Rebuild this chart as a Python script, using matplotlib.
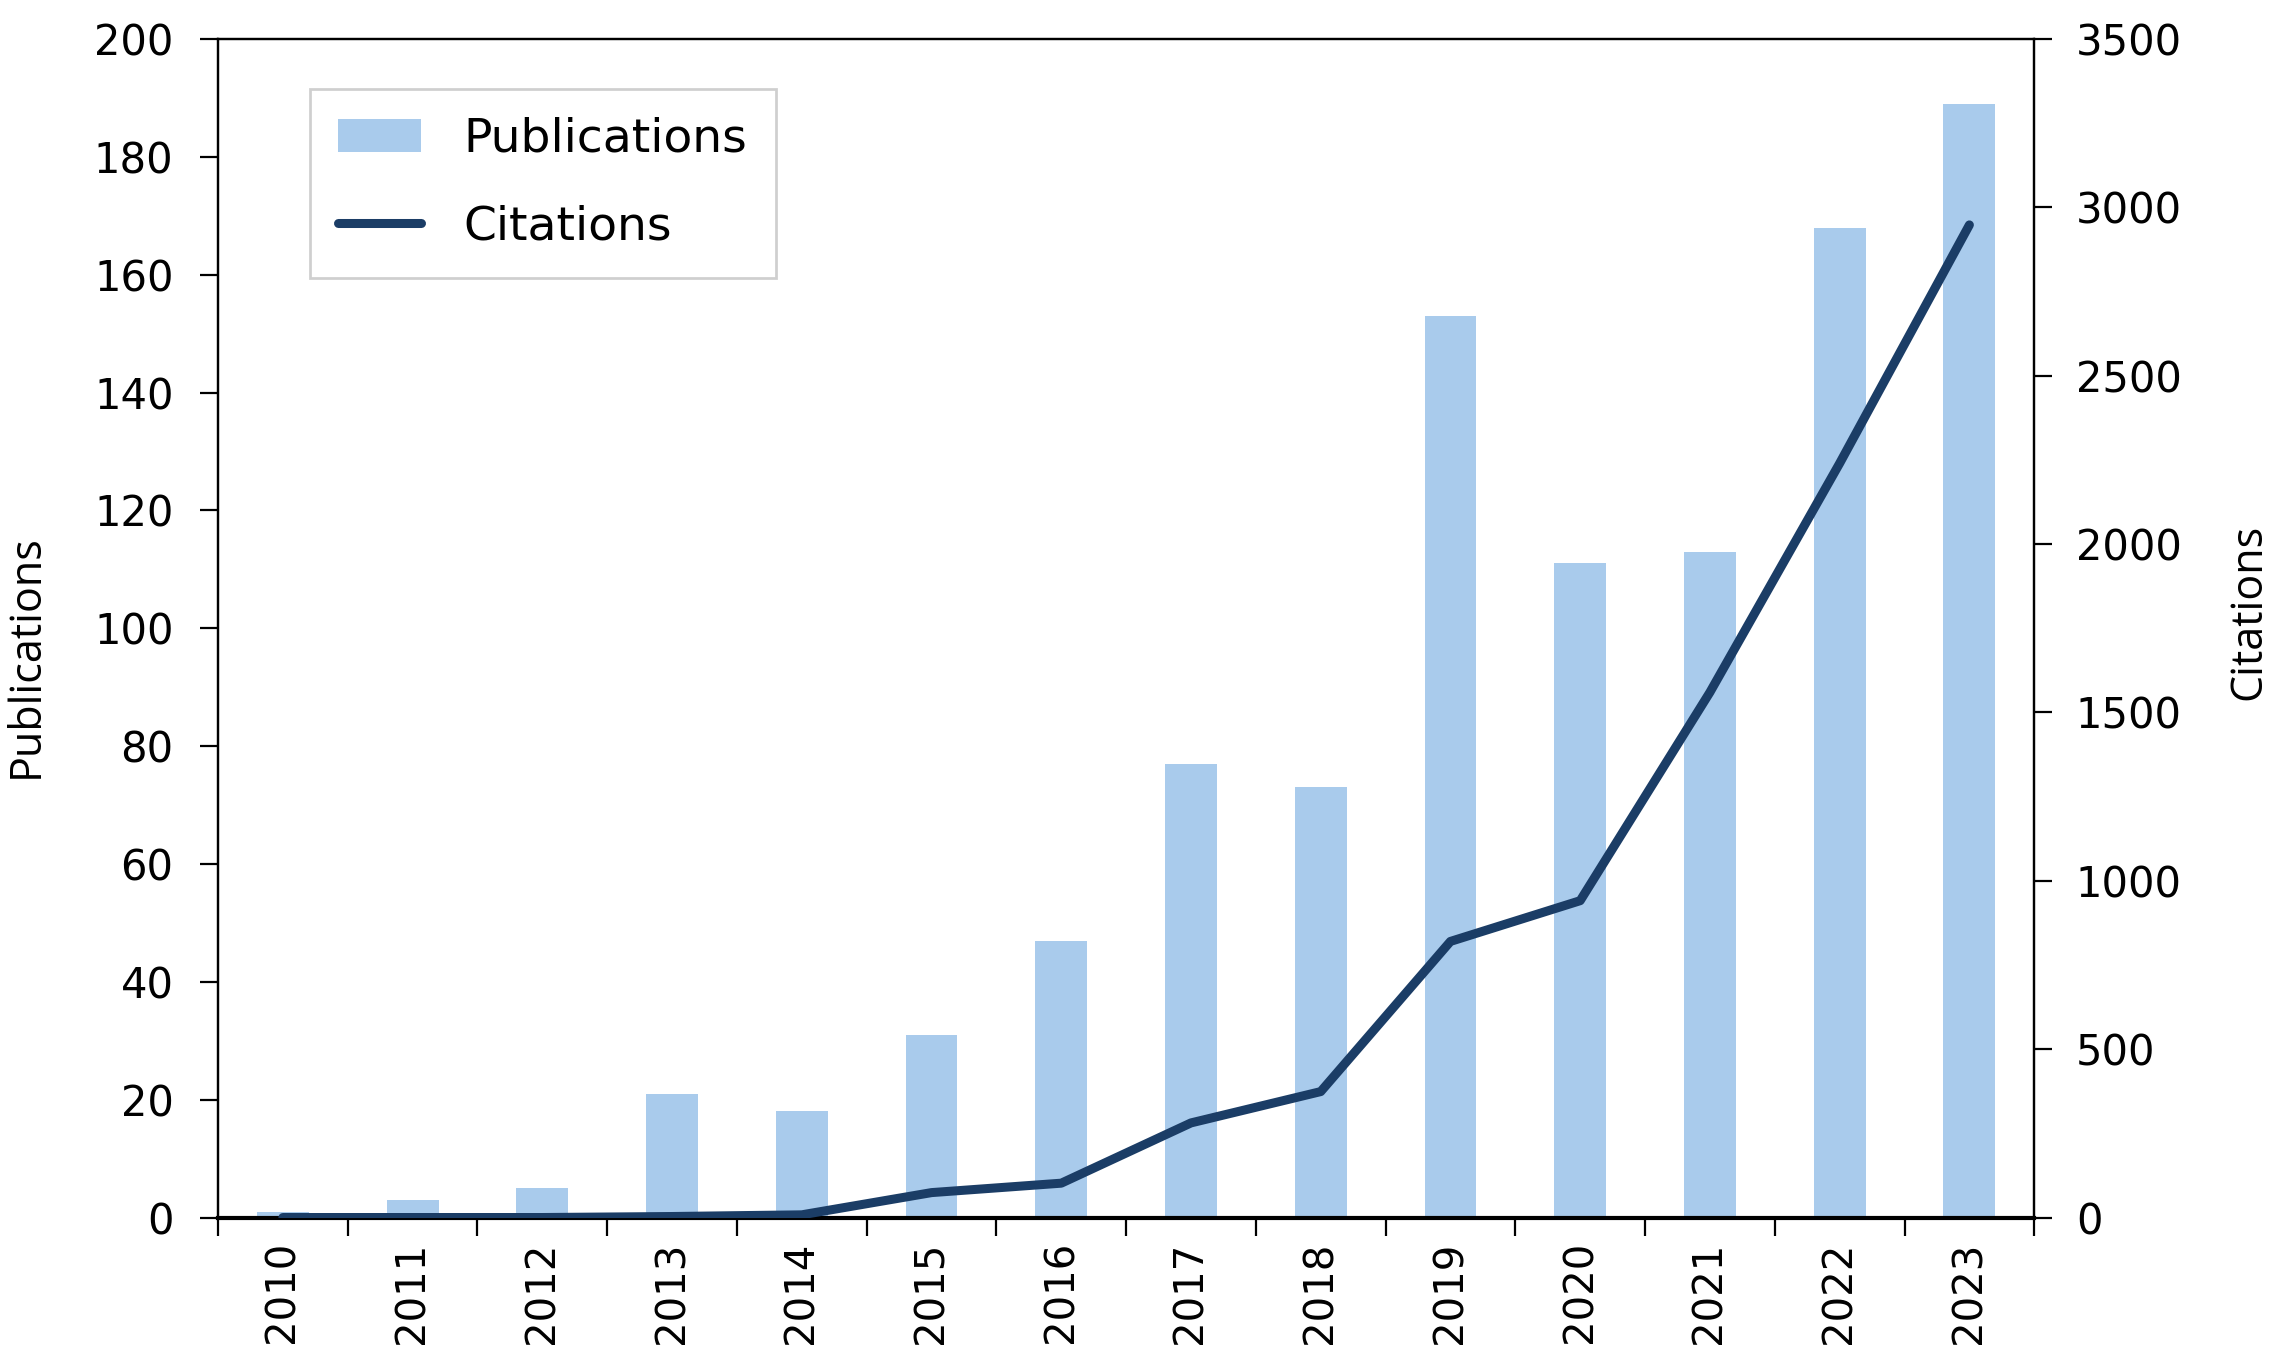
import matplotlib
matplotlib.use("Agg")
import matplotlib.pyplot as plt
import numpy as np

# data
years = ["2010", "2011", "2012", "2013", "2014", "2015", "2016",
         "2017", "2018", "2019", "2020", "2021", "2022", "2023"]
publications = [1, 3, 5, 21, 18, 31, 47, 77, 73, 153, 111, 113, 168, 189]
citations = [0, 0, 0, 3, 8, 74, 102, 281, 374, 820, 941, 1560, 2240, 2948]

bar_color = "#a9cbec"
line_color = "#1b3d66"

plt.rcParams["font.family"] = "DejaVu Sans"

fig = plt.figure(figsize=(22.78, 13.70), dpi=100)
ax = fig.add_axes([0.0957, 0.1113, 0.7973, 0.8602])
ax2 = ax.twinx()

x = np.arange(len(years))
bars = ax.bar(x, publications, width=0.4, color=bar_color, zorder=1, label="Publications")
line, = ax2.plot(x, citations, color=line_color, lw=6.5, solid_capstyle="round",
                 solid_joinstyle="round", label="Citations", zorder=3)

ax.set_xlim(-0.5, len(years) - 0.5)
ax.set_ylim(0, 200)
ax2.set_ylim(0, 3500)
ax.set_yticks(np.arange(0, 201, 20))
ax2.set_yticks(np.arange(0, 3501, 500))

# category labels at centres, ticks on the boundaries
ax.set_xticks(x)
ax.set_xticklabels(years, rotation=90, fontsize=29)
ax.set_xticks(np.arange(-0.5, len(years), 1.0), minor=True)
ax.tick_params(axis="x", which="major", length=0, pad=17)
ax.tick_params(axis="x", which="minor", length=13, width=1.6, direction="out")

ax.tick_params(axis="y", labelsize=30, length=13, width=1.6, direction="out", pad=19)
ax2.tick_params(axis="y", labelsize=30, length=13, width=1.6, direction="out", pad=17)

for a in (ax, ax2):
    for s in a.spines.values():
        s.set_linewidth(1.6)
ax.spines["bottom"].set_linewidth(3)

ax.set_ylabel("Publications", fontsize=31, family="Open Sans")
ax.yaxis.set_label_coords(-0.093, 0.476)
ax2.set_ylabel("Citations", fontsize=31, family="Open Sans")
ax2.yaxis.set_label_coords(1.106, 0.514)

ax2.set_zorder(ax.get_zorder() + 1)
ax2.patch.set_visible(False)

leg = ax2.legend([bars, line], ["Publications", "Citations"], loc="upper left",
                 bbox_to_anchor=(0.0507, 0.958), borderaxespad=0, fontsize=34,
                 fancybox=False, frameon=True, edgecolor="#c4c4c4",
                 handlelength=1.75, handletextpad=0.9, labelspacing=0.9,
                 borderpad=0.6)
leg.get_frame().set_linewidth(2)

fig.savefig("out.png", dpi=100)
